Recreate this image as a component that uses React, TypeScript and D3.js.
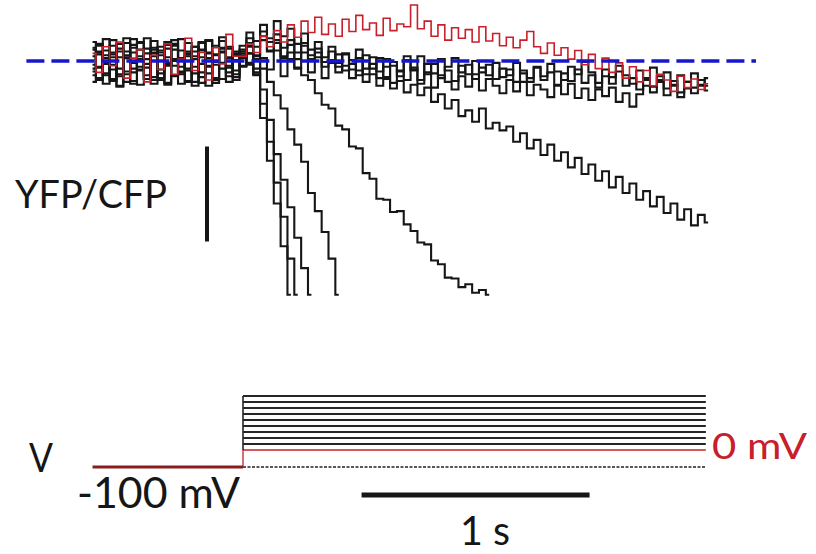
import React, { useRef, useEffect } from 'react';
import * as d3 from 'd3';

// sampling grid of the FRET traces (s), step onset at t = 0
const T0 = -0.66;
const DT = 0.03;
const STEP_END = 2.03;
const BASELINE_SPAN = [-0.95, 2.25];

// YFP/CFP change, % of baseline (scale bar = 10 %)
// 22 pre-step samples followed by post-step samples
const TRACE_RED = [
    0.8, -1.2, 1.5, -0.5, 2.0, -1.8, 0.3, 1.2, -2.2, 0.6, -0.9, 1.8, -1.4, 0.2, 2.4, -1.0, 0.9, -2.0, 1.4, -0.3, 2.8, 0.5,
    0.5, 1.8, 0.9, 2.6, 1.5, 3.2, 2.0, 3.8, 2.5, 4.2,
    3.0, 4.6, 2.8, 3.9, 2.6, 4.4, 3.1, 4.8, 3.3, 4.0,
    2.7, 4.5, 3.2, 3.9, 3.6, 5.9, 3.4, 4.2, 2.6, 3.8,
    2.2, 3.5, 2.4, 3.3, 2.0, 3.6, 2.1, 2.9, 1.6, 2.5,
    1.4, 2.2, 3.1, 1.5, 0.8, 1.9, 0.6, 1.4, 0.2, 1.1,
    -0.4, 0.7, -0.8, 0.3, -1.2, -0.2, -1.8, -0.6, -2.2, -1.0,
    -2.6, -1.4, -2.0, -3.2, -1.6, -2.8, -1.9, -3.0, -2.4,
];

const TRACE_A = [
    -1.5, 1.0, -2.4, 0.4, -0.8, 1.9, -2.1, 0.2, 1.3, -1.7, 0.9, -0.4, 2.2, -1.2, 0.5, -2.6, 1.1, -0.6, 1.6, -1.9, 0.3, -1.0,
    -0.5, 0.8, -1.5, -6.0, -10.5, -15.0, -19.5, -24.6,
];

const TRACE_B = [
    1.2, -0.6, 2.3, -1.9, 0.4, -1.1, 1.7, -2.5, 0.8, 1.4, -0.9, 2.0, -1.6, 0.1, -2.2, 1.5, -0.3, 0.9, -1.8, 2.1, -0.7, 1.0,
    0.6, -0.4, -1.2, -4.5, -8.5, -12.8, -16.4, -20.8, -24.6,
];

const TRACE_C = [
    -0.8, 1.6, -1.3, 0.7, -2.7, 1.0, -0.2, 2.0, -1.5, 0.5, -2.0, 1.3, 0.0, -1.1, 1.9, -0.6, -2.3, 0.8, -0.1, 1.4, -1.6, 0.6,
    1.0, -0.2, -0.8, -3.0, -6.2, -9.8, -12.5, -15.4, -18.6, -21.8, -24.6,
];

const TRACE_D = [
    0.5, -1.8, 1.1, -0.4, 1.8, -2.2, 0.9, -1.0, 0.2, 2.1, -1.3, -0.5, 1.2, -2.4, 0.7, 1.5, -1.2, 0.3, -2.0, 1.0, 0.4, -1.4,
    0.8, 1.5, 0.2, -0.8, -2.2, -3.6, -5.0, -7.2, -8.8, -10.6, -13.9, -15.8, -18.0, -20.8, -24.6,
];

const TRACE_E = [
    -1.1, 0.7, -0.3, 2.2, -1.6, 0.4, -2.4, 1.2, -0.7, 0.9, -1.8, 1.7, -0.5, 0.3, -2.1, 1.0, 2.0, -1.3, 0.6, -0.8, 1.3, -2.0,
    0.4, 1.6, 0.5, 2.2, 1.0, 1.9, 0.3, 0.9, -0.8, -1.5,
    -2.0, -3.4, -4.6, -5.0, -6.8, -7.2, -9.0, -9.2, -11.8, -12.4,
    -14.5, -14.6, -15.9, -15.8, -17.2, -17.9, -19.1, -19.3, -21.0, -21.4,
    -22.8, -22.9, -23.8, -23.5, -24.4, -24.1, -24.6,
];

const TRACE_F = [
    1.4, -2.0, 0.6, -0.9, 1.0, -1.4, 2.3, -0.6, -1.9, 0.8, 1.5, -2.3, 0.2, 1.1, -1.0, 0.5, -1.7, 2.2, -0.4, 0.9, -2.2, 0.1,
    1.2, 2.4, 1.5, 3.1, 2.0, 2.8, 1.4, 2.2, 0.9, 1.6,
    0.2, 0.9, -0.6, 0.1, -1.2, -0.5, -1.8, -1.0, -2.2, -1.4,
    -2.6, -1.9, -2.9, -2.1, -3.3, -2.5, -3.6, -2.8, -4.3, -3.5,
    -5.0, -4.1, -5.8, -5.2, -6.4, -5.0, -7.1, -6.5, -7.3, -6.9,
    -8.5, -7.6, -9.2, -8.3, -9.9, -8.8, -10.5, -9.6, -11.2, -10.2,
    -11.9, -10.9, -12.6, -11.6, -13.3, -12.2, -13.9, -12.9, -14.6, -13.7,
    -15.3, -14.3, -16.0, -15.0, -16.7, -15.6, -17.3, -16.2, -17.0,
];

const TRACE_G = [
    -0.4, 1.8, -1.5, 0.9, -2.6, 0.3, 1.4, -0.9, 2.4, -2.0, 0.6, -0.2, 1.6, -1.4, 0.8, -2.2, 1.9, -0.5, 0.0, 2.5, -1.2, 0.7,
    1.6, 3.0, 2.1, 3.8, 2.4, 4.2, 2.6, 3.4, 1.8, 2.9,
    1.2, 2.0, 0.4, 1.5, -0.2, 0.8, -0.9, 0.3, -1.4, -0.3,
    -1.8, -0.6, -2.3, -1.0, -2.0, -0.7, -2.4, -1.2, -2.8, -1.5,
    -2.2, -3.0, -1.6, -2.7, -1.4, -3.1, -1.9, -2.6, -3.4, -2.0,
    -3.2, -2.2, -3.6, -2.5, -3.0, -3.8, -2.6, -3.5, -2.4, -3.9,
    -2.9, -4.1, -3.0, -3.7, -2.8, -4.3, -3.4, -4.8, -3.5, -2.6,
    -3.3, -2.2, -3.6, -2.5, -3.8, -2.9, -3.4, -2.6, -3.1,
];

const TRACE_H = [
    2.0, -0.7, 0.3, -2.1, 1.3, 0.6, -1.2, 1.9, -0.3, -2.4, 1.1, 0.4, -1.5, 2.3, -0.8, 0.2, 1.2, -2.6, 0.7, -0.2, 1.5, -1.7,
    0.3, 1.9, 0.6, 2.6, 1.1, 2.2, 0.5, 1.7, 0.2, 1.9,
    0.6, 1.3, -0.1, 1.0, -0.6, 0.7, -0.3, 1.2, -0.8, 0.4,
    -1.1, 0.2, -0.5, -1.6, 0.1, -1.0, 0.5, -1.4, -0.3, -1.8,
    -0.6, 0.3, -1.2, -0.4, -1.9, -0.7, -1.5, -0.2, -1.7, -0.9,
    -2.2, -1.0, -1.8, -0.6, -2.0, -1.2, -2.5, -1.3, -2.1, -0.9,
    -2.3, -1.5, -2.8, -1.6, -2.4, -1.1, -2.6, -1.8, -3.0, -2.0,
    -2.7, -1.6, -2.9, -2.1, -3.3, -2.2, -2.8, -2.0, -2.6,
];

const TRACE_I = [
    -2.2, 0.9, -0.1, 1.6, -1.4, 2.4, -0.8, 0.5, -1.9, 1.2, 0.0, -2.5, 1.8, -0.6, 1.0, -1.3, 0.4, 2.1, -2.3, 1.3, -0.5, 0.8,
    -0.6, 0.8, -1.4, 0.3, -0.9, 1.1, -1.6, 0.2, -0.7, 0.9,
    -1.2, 0.4, -1.8, -0.2, 0.7, -1.0, 0.1, -1.5, 0.6, -0.8,
    0.3, -1.7, -0.1, -1.1, 0.5, -0.9, -2.0, -0.3, -1.3, 0.2,
    -1.0, -2.1, -0.5, -1.4, 0.0, -1.2, -0.4, -1.9, -0.8, -1.5,
    -0.2, -1.3, -2.2, -0.7, -1.6, -0.3, -1.1, -2.0, -0.6, -1.4,
    -0.1, -1.2, -2.3, -0.9, -1.7, -0.5, -1.5, -2.4, -1.0, -1.8,
    -0.7, -2.0, -1.2, -2.6, -1.5, -2.2, -1.3, -2.5, -1.8,
];

const BLACK_TRACES = [TRACE_I, TRACE_H, TRACE_G, TRACE_F, TRACE_E, TRACE_D, TRACE_C, TRACE_B, TRACE_A];

// command voltages (mV)
const HOLD_MV = -100;
const RED_MV = 0;
const STEP_MV = [20, 40, 60, 80, 100, 120, 140, 160, 180];

const RED = '#c8202a';
const INK = '#161616';
const FONT = "Lato, 'Open Sans', sans-serif";

const App = () => {
    const ref = useRef<SVGSVGElement>(null);

    useEffect(() => {
        const svg = d3.select(ref.current);
        svg.selectAll('*').remove();

        const x = d3.scaleLinear().domain([0, 1]).range([243, 471]);
        const y = d3.scaleLinear().domain([0, -10]).range([61, 156]);
        const v = d3.scaleLinear().domain([-100, 0, 180]).range([467, 450, 396]);

        const line = d3.line<number>()
            .x((d, i) => x(T0 + i * DT))
            .y(d => y(d))
            .curve(d3.curveStep);

        // FRET traces
        const traces = svg.append('g').attr('fill', 'none').attr('stroke-linejoin', 'miter');
        BLACK_TRACES.forEach(tr => {
            traces.append('path')
                .attr('d', line(tr))
                .attr('stroke', INK)
                .attr('stroke-width', 2.1);
        });
        traces.append('path')
            .attr('d', line(TRACE_RED))
            .attr('stroke', RED)
            .attr('stroke-width', 1.6);

        // baseline
        svg.append('line')
            .attr('x1', x(BASELINE_SPAN[0])).attr('x2', x(BASELINE_SPAN[1]))
            .attr('y1', y(0)).attr('y2', y(0))
            .attr('stroke', '#1616cc')
            .attr('stroke-width', 3.5)
            .attr('stroke-dasharray', '18 7');

        // YFP/CFP scale bar (10 %)
        svg.append('line')
            .attr('x1', x(-0.158)).attr('x2', x(-0.158))
            .attr('y1', y(-9)).attr('y2', y(-19))
            .attr('stroke', INK).attr('stroke-width', 4);

        // voltage protocol
        const vp = svg.append('g');
        STEP_MV.forEach(mv => {
            vp.append('line')
                .attr('x1', x(0)).attr('x2', x(STEP_END))
                .attr('y1', v(mv)).attr('y2', v(mv))
                .attr('stroke', '#262626').attr('stroke-width', 1.8);
        });
        vp.append('line')
            .attr('x1', x(0)).attr('x2', x(STEP_END))
            .attr('y1', v(RED_MV)).attr('y2', v(RED_MV))
            .attr('stroke', RED).attr('stroke-width', 1.3);
        vp.append('line')
            .attr('x1', x(0)).attr('x2', x(STEP_END))
            .attr('y1', v(HOLD_MV)).attr('y2', v(HOLD_MV))
            .attr('stroke', '#222').attr('stroke-width', 1.6)
            .attr('stroke-dasharray', '3 1.5');
        vp.append('line')
            .attr('x1', x(0)).attr('x2', x(0))
            .attr('y1', v(d3.max(STEP_MV) as number)).attr('y2', v(RED_MV))
            .attr('stroke', '#262626').attr('stroke-width', 1.6);
        vp.append('line')
            .attr('x1', x(0)).attr('x2', x(0))
            .attr('y1', v(RED_MV)).attr('y2', v(HOLD_MV))
            .attr('stroke', RED).attr('stroke-width', 1.3);
        vp.append('line')
            .attr('x1', x(T0)).attr('x2', x(0))
            .attr('y1', v(HOLD_MV)).attr('y2', v(HOLD_MV))
            .attr('stroke', '#8a1c1f').attr('stroke-width', 3);

        // time scale bar (1 s)
        svg.append('line')
            .attr('x1', x(0.52)).attr('x2', x(1.52))
            .attr('y1', 495).attr('y2', 495)
            .attr('stroke', INK).attr('stroke-width', 5);

        const labels = [
            { text: 'YFP/CFP', x: 15, y: 208, size: 39, len: 152, color: INK },
            { text: 'V', x: 29, y: 472, size: 40, len: 24, color: INK },
            { text: '-100 mV', x: 77, y: 508, size: 42, len: 163, color: INK },
            { text: '0 mV', x: 712, y: 459, size: 36, len: 95, color: RED },
            { text: '1 s', x: 460, y: 545, size: 41, len: 50, color: INK },
        ];
        svg.append('g').selectAll('text')
            .data(labels)
            .enter().append('text')
            .attr('x', d => d.x)
            .attr('y', d => d.y)
            .attr('font-family', FONT)
            .attr('font-size', d => d.size)
            .attr('fill', d => d.color)
            .attr('textLength', d => d.len)
            .attr('lengthAdjust', 'spacingAndGlyphs')
            .text(d => d.text);
    }, []);

    return (
        <svg ref={ref} width={816} height={554}
            style={{ position: 'absolute', left: 0, top: 0, background: '#fff' }} />
    );
};

export default App;
